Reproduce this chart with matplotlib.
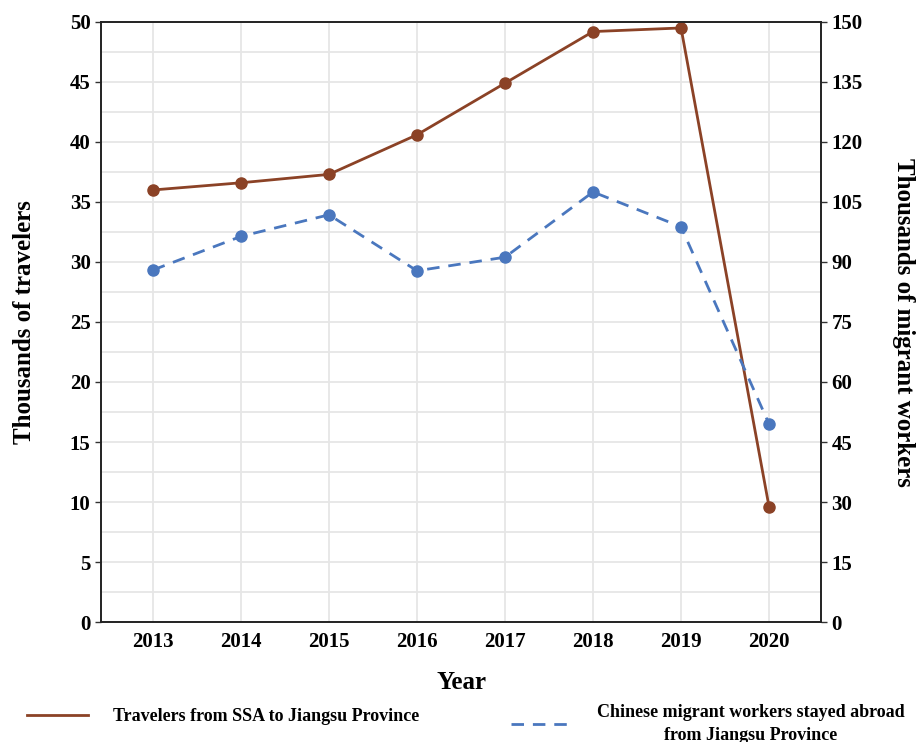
import matplotlib.pyplot as plt
from matplotlib.ticker import MultipleLocator

years = [2013, 2014, 2015, 2016, 2017, 2018, 2019, 2020]
travelers = [36.0, 36.6, 37.3, 40.6, 44.9, 49.2, 49.5, 9.6]
migrants = [88.0, 96.4, 101.8, 87.8, 91.2, 107.5, 98.8, 49.5]

BROWN = '#8B4226'
BLUE = '#4A77BE'
GRID = '#e6e6e6'

plt.rcParams['font.family'] = ['Liberation Serif', 'DejaVu Serif']
plt.rcParams['font.weight'] = 'bold'

fig = plt.figure(figsize=(9.21, 7.42), dpi=100)
ax = fig.add_axes([0.1097, 0.1617, 0.7817, 0.8087])
ax2 = ax.twinx()

l1, = ax.plot(years, travelers, color=BROWN, lw=2.0, marker='o', ms=8,
              label='Travelers from SSA to Jiangsu Province', zorder=3)
l2, = ax2.plot(years, migrants, color=BLUE, lw=2.0, marker='o', ms=8,
               dashes=(4.5, 3.2),
               label='Chinese migrant workers stayed abroad\nfrom Jiangsu Province', zorder=3)

ax.set_xlim(2012.41, 2020.59)
ax.set_ylim(0, 50)
ax2.set_ylim(0, 150)
ax.set_xticks(years)
ax.yaxis.set_major_locator(MultipleLocator(5))
ax.yaxis.set_minor_locator(MultipleLocator(2.5))
ax2.yaxis.set_major_locator(MultipleLocator(15))

ax.grid(True, which='both', axis='y', color=GRID, lw=1.3, zorder=0)
ax.grid(True, which='major', axis='x', color=GRID, lw=1.3, zorder=0)
ax.set_axisbelow(True)
ax.tick_params(axis='y', which='minor', length=0)
ax.tick_params(axis='both', which='major', length=4, width=1, labelsize=15,
               color='#333333')
ax.tick_params(axis='x', which='major', length=0, pad=7)
ax2.tick_params(axis='y', which='major', length=4, width=1, labelsize=15,
                color='#333333')

for a in (ax, ax2):
    for s in a.spines.values():
        s.set_color('#222222')
        s.set_linewidth(1.2)

for lab in ax.get_xticklabels() + ax.get_yticklabels() + ax2.get_yticklabels():
    lab.set_fontweight('bold')

ax.set_xlabel('Year', fontsize=18, fontweight='bold', labelpad=14)
ax.set_ylabel('Thousands of travelers', fontsize=18, fontweight='bold', labelpad=24)
ax2.set_ylabel('Thousands of migrant workers', fontsize=18, fontweight='bold',
               rotation=270, labelpad=38)

# one legend per series so each row sits where it should below the axes
leg_kw = dict(frameon=False, handlelength=3.35, handletextpad=1.4,
              prop={'weight': 'bold', 'size': 13})
leg1 = fig.legend(handles=[l1], loc='center left', bbox_to_anchor=(0.012, 0.0337), **leg_kw)
leg2 = fig.legend(handles=[l2], loc='center left', bbox_to_anchor=(0.537, 0.0243), **leg_kw)
for leg in (leg1, leg2):
    for h in leg.get_lines():
        h.set_marker('')
    for t in leg.get_texts():
        t.set_multialignment('center')
        t.set_linespacing(1.4)

fig.savefig('out.png', dpi=100)
